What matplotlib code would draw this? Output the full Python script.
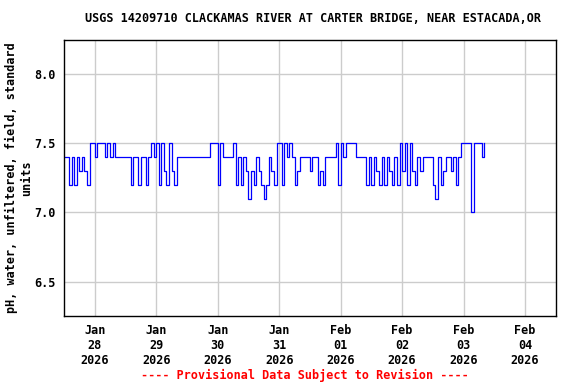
import numpy as np
import pandas as pd
import matplotlib
matplotlib.use("Agg")
import matplotlib.pyplot as plt
import matplotlib.dates as mdates

# hourly pH readings, each list starts at 12:00 of the given day
ph_jan27 = [7.4, 7.4, 7.2, 7.4, 7.2, 7.4, 7.3, 7.4, 7.3, 7.2, 7.5, 7.5,
            7.4, 7.5, 7.5, 7.5, 7.4, 7.5, 7.4, 7.5, 7.4, 7.4, 7.4, 7.4]
ph_jan28 = [7.4, 7.4, 7.2, 7.4, 7.4, 7.2, 7.4, 7.4, 7.2, 7.4, 7.5, 7.4,
            7.5, 7.2, 7.5, 7.3, 7.2, 7.5, 7.3, 7.2, 7.4, 7.4, 7.4, 7.4]
ph_jan29 = [7.4, 7.4, 7.4, 7.4, 7.4, 7.4, 7.4, 7.4, 7.4, 7.5, 7.5, 7.5,
            7.2, 7.5, 7.4, 7.4, 7.4, 7.4, 7.5, 7.2, 7.4, 7.2, 7.4, 7.3]
ph_jan30 = [7.1, 7.3, 7.2, 7.4, 7.3, 7.2, 7.1, 7.2, 7.4, 7.3, 7.2, 7.5,
            7.5, 7.2, 7.5, 7.4, 7.5, 7.4, 7.2, 7.3, 7.4, 7.4, 7.4, 7.4]
ph_jan31 = [7.3, 7.4, 7.4, 7.2, 7.3, 7.2, 7.4, 7.4, 7.4, 7.4, 7.5, 7.2,
            7.5, 7.4, 7.5, 7.5, 7.5, 7.5, 7.4, 7.4, 7.4, 7.4, 7.2, 7.4]
ph_feb01 = [7.2, 7.4, 7.3, 7.2, 7.4, 7.2, 7.4, 7.3, 7.2, 7.4, 7.2, 7.5,
            7.3, 7.5, 7.2, 7.5, 7.3, 7.2, 7.4, 7.3, 7.4, 7.4, 7.4, 7.4]
ph_feb02 = [7.2, 7.1, 7.4, 7.2, 7.3, 7.4, 7.4, 7.3, 7.4, 7.2, 7.4, 7.5,
            7.5, 7.5, 7.5, 7.0, 7.5, 7.5, 7.5, 7.4, 7.5]

ph = ph_jan27 + ph_jan28 + ph_jan29 + ph_jan30 + ph_jan31 + ph_feb01 + ph_feb02
times = pd.date_range("2026-01-27 12:00", periods=len(ph), freq="h")

tick_days = pd.date_range("2026-01-28", "2026-02-04", freq="D")
tick_labels = [d.strftime("%b\n%d\n%Y") for d in tick_days]
y_ticks = [6.5, 7.0, 7.5, 8.0]

font = "DejaVu Sans Mono"

fig = plt.figure(figsize=(5.76, 3.84), dpi=100)
ax = fig.add_axes([0.111, 0.177, 0.854, 0.719])

ax.plot(times, ph, color="#0000ff", linewidth=0.9, drawstyle="steps-post")

ax.set_xlim(pd.Timestamp("2026-01-27 12:00"), pd.Timestamp("2026-02-04 12:00"))
ax.set_ylim(6.25, 8.25)
ax.set_xticks(tick_days)
ax.set_xticklabels(tick_labels, fontfamily=font, fontweight="bold", fontsize=8.5)
ax.set_yticks(y_ticks)
ax.set_yticklabels(["%.1f" % v for v in y_ticks], fontfamily=font,
                   fontweight="bold", fontsize=8.5)
ax.tick_params(length=0, pad=6)
ax.grid(True, color="#cccccc", linewidth=1)
ax.set_axisbelow(True)
for s in ax.spines.values():
    s.set_linewidth(1)
    s.set_color("black")

fig.text(0.543, 0.952, "USGS 14209710 CLACKAMAS RIVER AT CARTER BRIDGE, NEAR ESTACADA,OR",
         ha="center", va="center", fontfamily=font, fontweight="bold", fontsize=8.5)
fig.text(0.033, 0.537, "pH, water, unfiltered, field, standard\nunits",
         rotation=90, ha="center", va="center", multialignment="center",
         fontfamily=font, fontweight="bold", fontsize=8.5)
fig.text(0.53, 0.023, "---- Provisional Data Subject to Revision ----",
         ha="center", va="center", color="red", fontfamily=font,
         fontweight="bold", fontsize=8.5)

fig.savefig("out.png", dpi=100)
